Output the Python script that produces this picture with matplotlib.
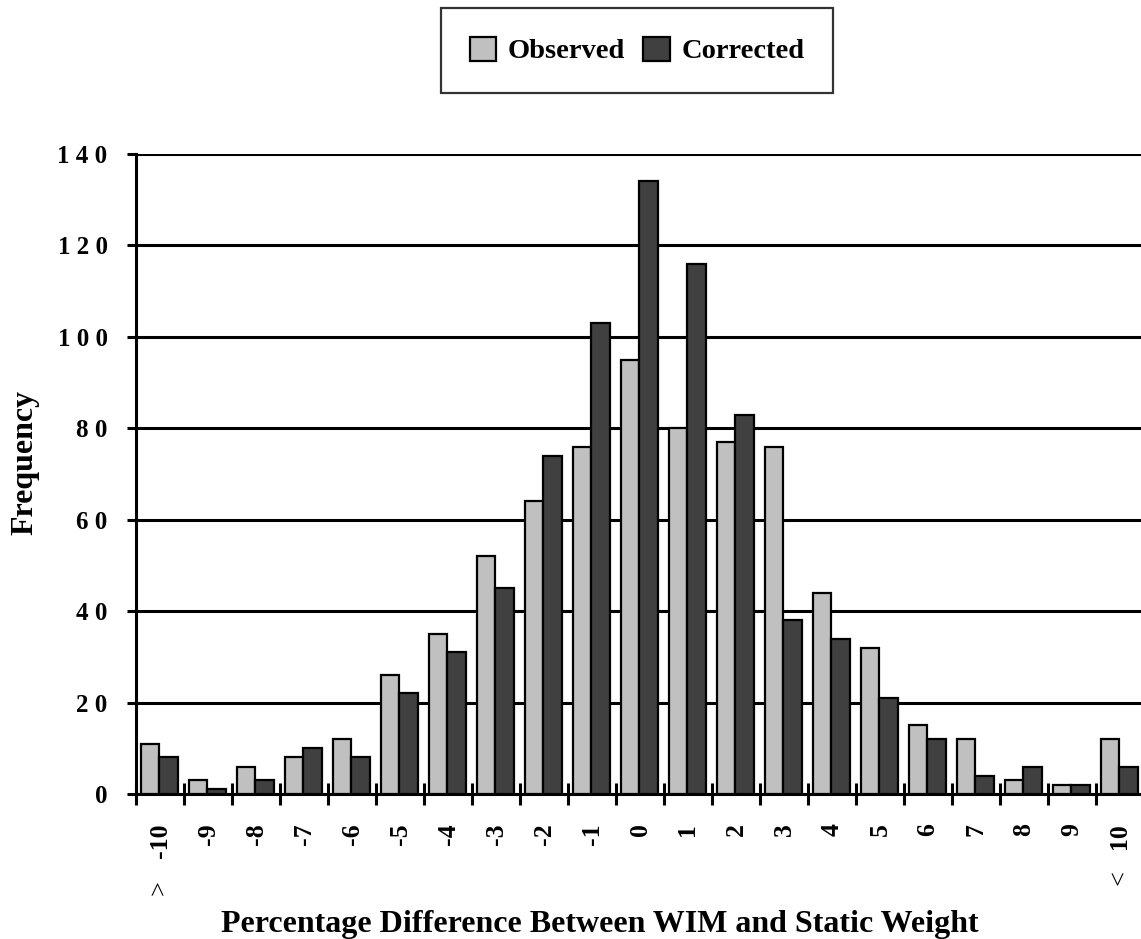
import numpy as np
import matplotlib
matplotlib.use("Agg")
import matplotlib.pyplot as plt

plt.rcParams['font.family'] = ['Liberation Serif', 'DejaVu Serif']
plt.rcParams['font.weight'] = 'bold'

# percentage difference bins (-10 means "> -10" and 10 means "< 10")
bins = np.arange(-10, 11)
tick_labels = [str(b) for b in bins]

observed = [11, 3, 6, 8, 12, 26, 35, 52, 64, 76, 95, 80, 77, 76, 44, 32, 15, 12, 3, 2, 12]
corrected = [8, 1, 3, 10, 8, 22, 31, 45, 74, 103, 134, 116, 83, 38, 34, 21, 12, 4, 6, 2, 6]

W, H = 1141, 939
fig = plt.figure(figsize=(W / 100, H / 100), dpi=100)
ax = fig.add_axes([136 / W, (H - 794) / H, 1008 / W, 640 / H])

width = 0.385
ax.bar(bins - 0.2115, observed, width, color='#c0c0c0', edgecolor='black',
       linewidth=1.6, label='Observed', zorder=3)
ax.bar(bins + 0.1745, corrected, width, color='#404040', edgecolor='black',
       linewidth=1.6, label='Corrected', zorder=3)

ax.set_xlim(-10.5, 10.5)
ax.set_ylim(0, 140)

# y axis: spaced-out digits, horizontal gridlines
yticks = np.arange(0, 141, 20)
ax.set_yticks(yticks)
ax.set_yticklabels([' '.join(str(v)) for v in yticks], fontsize=18)
ax.yaxis.grid(True, color='black', linewidth=2.2)
ax.set_axisbelow(True)
ax.tick_params(axis='y', direction='out', length=6.5, width=2.2, pad=14)

# x axis: labels at bin centres, tick marks on bin boundaries
ax.set_xticks(bins)
ax.set_xticklabels(tick_labels, rotation=90, fontsize=18.5, va='top')
ax.set_xticks(np.arange(-10.5, 11.0, 1.0), minor=True)
ax.tick_params(axis='x', which='major', length=0, pad=21)
ax.tick_params(axis='x', which='minor', direction='inout', length=16, width=2.2)

for side in ['top', 'right']:
    ax.spines[side].set_visible(False)
for side in ['left', 'bottom']:
    ax.spines[side].set_linewidth(2.2)

# open-ended bin markers
ax.text(-10, -94 / 640, '>', transform=ax.get_xaxis_transform(), rotation=90,
        ha='center', va='center', fontsize=19, fontweight='normal')
ax.text(10, -84 / 640, '<', transform=ax.get_xaxis_transform(), rotation=90,
        ha='center', va='center', fontsize=19, fontweight='normal')

fig.text(600 / W, 1 - 932 / H, 'Percentage Difference Between WIM and Static Weight',
         ha='center', va='baseline', fontsize=23, fontweight='bold')
fig.text(25 / W, 1 - 462 / H, 'Frequency', rotation=90, ha='center', va='center',
         fontsize=23, fontweight='bold')

leg = fig.legend(loc='center', bbox_to_anchor=(637 / W, 1 - 50.5 / H), ncol=2,
                 fontsize=20.5, frameon=True, fancybox=False, borderpad=1.02,
                 handlelength=0.93, handleheight=0.93, handletextpad=0.4,
                 columnspacing=0.65)
leg.get_frame().set_edgecolor('black')
leg.get_frame().set_linewidth(1.6)

fig.savefig('out.png', dpi=100)
